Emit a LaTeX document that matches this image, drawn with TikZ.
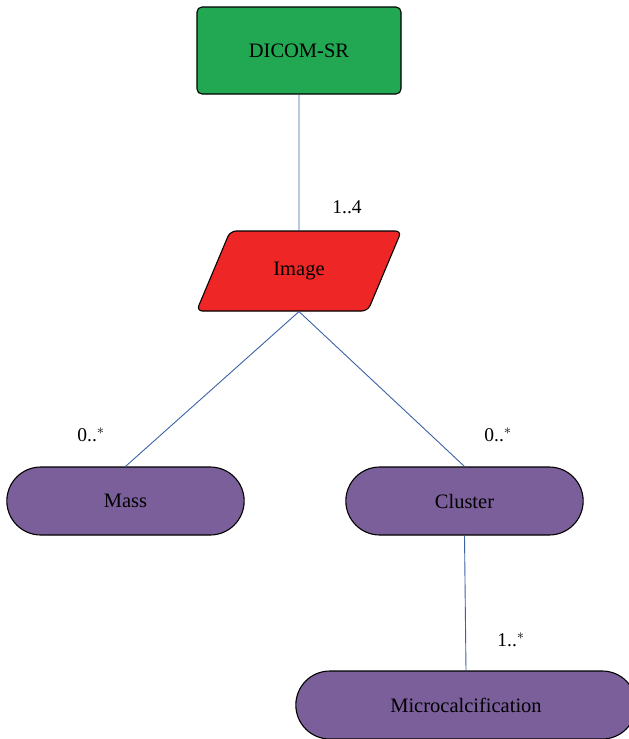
\documentclass[tikz,border=0pt]{standalone}
\usepackage{fontspec}
\setmainfont{Liberation Serif}
\usepackage{xcolor}
\usepackage{tikz}
\usetikzlibrary{shapes,positioning}

\definecolor{srgreen}{HTML}{22A852}
\definecolor{imgred}{HTML}{EE2626}
\definecolor{objpurple}{HTML}{7B5F9A}
\definecolor{linkblue}{HTML}{3B62A3}

\tikzset{
  box/.style={draw=black,line width=1.1pt,font=\fontsize{20.5}{24}\selectfont},
  pill/.style={box,rounded rectangle,fill=objpurple,minimum height=68pt,minimum width=244pt},
  link/.style={draw=linkblue,line width=0.9pt},
  mult/.style={font=\fontsize{19.5}{23}\selectfont}
}

\begin{document}
\begin{tikzpicture}[x=1pt,y=-1pt]
    \useasboundingbox (0,0) rectangle (629,739);
    \clip (0,0) rectangle (629,739);
    % boxes
    \node[box,fill=srgreen,rounded corners=5pt,minimum width=204pt,minimum height=87pt] (sr) at (299,50.5) {DICOM-SR};
    \node[box,trapezium,trapezium left angle=60,trapezium right angle=120,trapezium stretches=true,fill=imgred,rounded corners=6pt,minimum width=205pt,minimum height=80pt] (img) at (299,271) {Image};
    \node[pill] (mass) at (125.5,501) {Mass};
    \node[pill] (cluster) at (464.5,501) {Cluster};
    \node[pill,minimum width=347pt] (micro) at (466,705) {Microcalcification};

    % links
    \draw[link] (sr.south) -- (img.north);
    \draw[link] (img.south) -- (mass.north);
    \draw[link] (img.south) -- (cluster.north);
    \draw[link] (cluster.south) -- (micro.north);

    % multiplicities
    \node[mult] (m1) at (347,207) {1..4};
    \node[mult] (m2) at (91,435) {0..$^{*}$};
    \node[mult] (m3) at (498,435) {0..$^{*}$};
    \node[mult] (m4) at (511,640) {1..$^{*}$};
\end{tikzpicture}
\end{document}
